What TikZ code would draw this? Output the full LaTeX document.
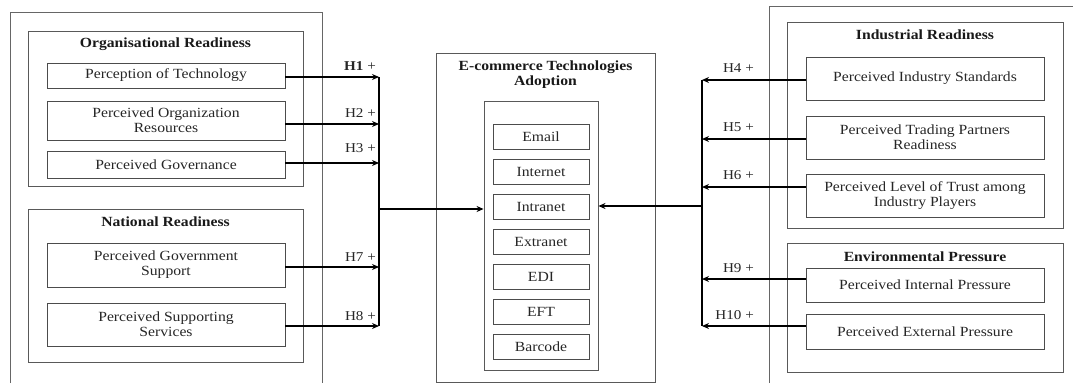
\documentclass[tikz,border=0pt]{standalone}
\usepackage{fontspec}
\setmainfont[FakeStretch=1.12]{Liberation Serif}
\usetikzlibrary{arrows.meta}
\begin{document}
\begin{tikzpicture}[x=1pt,y=-1pt,
  outer/.style={draw=black!60, line width=0.9pt},
  grp/.style={draw=black!65, line width=0.9pt, inner sep=0pt},
  box/.style={draw=black!70, line width=0.9pt, inner sep=0pt, align=center,
    text=black!85, font=\fontsize{14}{15}\selectfont},
  ttl/.style={inner sep=0pt, align=center, text=black!90,
    font=\bfseries\fontsize{14}{15}\selectfont},
  hl/.style={inner sep=0pt, text=black!85, font=\fontsize{13.5}{15}\selectfont},
  arr/.style={line width=1.5pt, -{Stealth[length=7pt,width=6pt]}},
  bar/.style={line width=2pt}]
\useasboundingbox (0,0) rectangle (1073,383);

% left outer frame (open at the bottom)
\draw[outer] (10,383) -- (10,12) -- (322,12) -- (322,383);
% right outer frame (open at the bottom and right)
\draw[outer] (769,383) -- (769,6) -- (1073,6);

% Organisational readiness
\node[grp, minimum width=275, minimum height=155] (orgR) at (165.5,108.5) {};
\node[ttl] (orgT) at (165.5,44) {Organisational Readiness};
\node[box, minimum width=238, minimum height=25] (pt) at (166,75.5) {Perception of Technology};
\node[box, minimum width=238, minimum height=39] (por) at (166,120.5) {Perceived Organization\\Resources};
\node[box, minimum width=238, minimum height=27] (pg) at (166,164.5) {Perceived Governance};

% National readiness
\node[grp, minimum width=275, minimum height=153] (natR) at (165.5,285.5) {};
\node[ttl] (natT) at (165.5,222) {National Readiness};
\node[box, minimum width=238, minimum height=44] (pgs) at (166,265) {Perceived Government\\Support};
\node[box, minimum width=238, minimum height=43] (pss) at (166,324.5) {Perceived Supporting\\Services};

% E-commerce
\node[grp, minimum width=219, minimum height=329] (ecom) at (545.5,217.5) {};
\node[ttl] (ecomT) at (545.5,75) {E-commerce Technologies\\Adoption};
\node[grp, minimum width=114, minimum height=269] (inner) at (541,235.5) {};
\node[box, minimum width=96, minimum height=25] (email) at (541,136.5) {Email};
\node[box, minimum width=96, minimum height=25] (internet) at (541,171.5) {Internet};
\node[box, minimum width=96, minimum height=25] (intranet) at (541,206.5) {Intranet};
\node[box, minimum width=96, minimum height=25] (extranet) at (541,241.5) {Extranet};
\node[box, minimum width=96, minimum height=25] (edi) at (541,276.5) {EDI};
\node[box, minimum width=96, minimum height=25] (eft) at (541,311.5) {EFT};
\node[box, minimum width=96, minimum height=25] (barcode) at (541,346.5) {Barcode};

% Industrial readiness
\node[grp, minimum width=276, minimum height=206] (indR) at (925,125) {};
\node[ttl] (indT) at (925,35) {Industrial Readiness};
\node[box, minimum width=238, minimum height=43] (pis) at (925,78.5) {Perceived Industry Standards};
\node[box, minimum width=238, minimum height=43] (ptp) at (925,137.5) {Perceived Trading Partners\\Readiness};
\node[box, minimum width=238, minimum height=43] (plt) at (925,195.5) {Perceived Level of Trust among\\Industry Players};

% Environmental pressure
\node[grp, minimum width=276, minimum height=129] (envR) at (925,307.5) {};
\node[ttl] (envT) at (925,257) {Environmental Pressure};
\node[box, minimum width=238, minimum height=34] (pip) at (925,285) {Perceived Internal Pressure};
\node[box, minimum width=238, minimum height=35] (pep) at (925,331.5) {Perceived External Pressure};

% junction coordinates
\coordinate (bl1) at (379,77);
\coordinate (bl2) at (379,124);
\coordinate (bl3) at (379,163);
\coordinate (bl0) at (379,209);
\coordinate (bl7) at (379,267);
\coordinate (bl8) at (379,326);
\coordinate (br4) at (702,80);
\coordinate (br5) at (702,139);
\coordinate (br6) at (702,187);
\coordinate (br0) at (702,206);
\coordinate (br9) at (702,279);
\coordinate (br10) at (702,326);

% bars
\draw[bar] (bl1) -- (bl8);
\draw[bar] (br4) -- (br10);

% left arrows
\draw[arr] (pt.east |- bl1) -- (bl1);
\draw[arr] (por.east |- bl2) -- (bl2);
\draw[arr] (pg.east |- bl3) -- (bl3);
\draw[arr] (pgs.east |- bl7) -- (bl7);
\draw[arr] (pss.east |- bl8) -- (bl8);
% right arrows
\draw[arr] (pis.west |- br4) -- (br4);
\draw[arr] (ptp.west |- br5) -- (br5);
\draw[arr] (plt.west |- br6) -- (br6);
\draw[arr] (pip.west |- br9) -- (br9);
\draw[arr] (pep.west |- br10) -- (br10);
% central arrows
\draw[arr] (bl0) -- (inner.west |- bl0);
\draw[arr] (br0) -- (inner.east |- br0);

% hypothesis labels
\node[hl, anchor=east] (h1) at (376,66) {\textbf{H1} +};
\node[hl, anchor=east] (h2) at (376,113) {H2 +};
\node[hl, anchor=east] (h3) at (376,148) {H3 +};
\node[hl, anchor=east] (h7) at (376,257) {H7 +};
\node[hl, anchor=east] (h8) at (376,316) {H8 +};
\node[hl, anchor=east] (h4) at (754,68) {H4 +};
\node[hl, anchor=east] (h5) at (754,127) {H5 +};
\node[hl, anchor=east] (h6) at (754,175) {H6 +};
\node[hl, anchor=east] (h9) at (754,268) {H9 +};
\node[hl, anchor=east] (h10) at (754,315) {H10 +};
\end{tikzpicture}
\end{document}
